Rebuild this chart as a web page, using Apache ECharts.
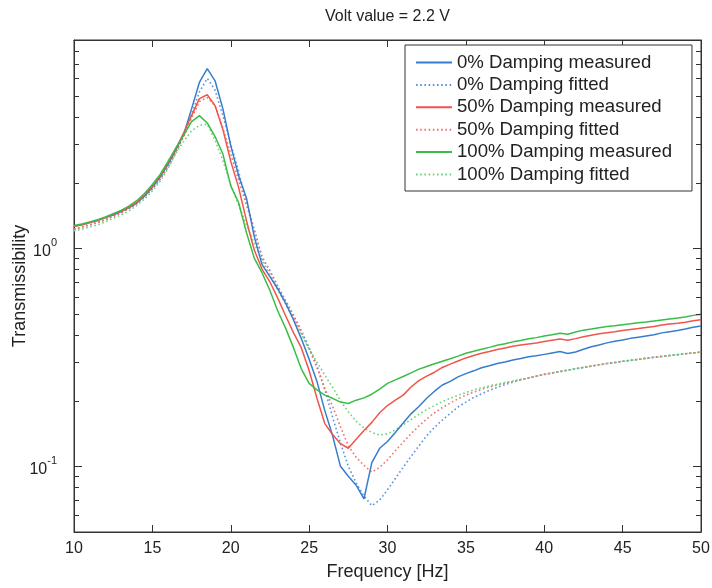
<!DOCTYPE html>
<html><head><meta charset="utf-8">
<script src="https://cdn.jsdelivr.net/npm/echarts@6/dist/echarts.min.js"></script>
<style>html,body{margin:0;padding:0;background:#fff}#c{width:712px;height:588px}</style>
</head><body><div id="c"></div>
<script>
const titleText = 'Volt value = 2.2 V';
const xName = 'Frequency [Hz]';
const yName = 'Transmissibility';
const seriesNames = ['0% Damping measured','0% Damping fitted','50% Damping measured','50% Damping fitted','100% Damping measured','100% Damping fitted'];

const freq = [10,10.5,11,11.5,12,12.5,13,13.5,14,14.5,15,15.5,16,16.5,17,17.5,18,18.5,19,19.5,20,20.5,21,21.5,22,22.5,23,23.5,24,24.5,25,25.5,26,26.5,27,27.5,28,28.5,29,29.5,30,30.5,31,31.5,32,32.5,33,33.5,34,34.5,35,35.5,36,36.5,37,37.5,38,38.5,39,39.5,40,40.5,41,41.5,42,42.5,43,43.5,44,44.5,45,45.5,46,46.5,47,47.5,48,48.5,49,49.5,50];

const blueMeasured = [1.26,1.28,1.31,1.34,1.38,1.42,1.47,1.53,1.61,1.73,1.90,2.12,2.42,2.82,3.32,4.35,5.75,6.65,5.85,4.35,2.95,2.15,1.70,1.13,0.84,0.74,0.65,0.56,0.47,0.385,0.31,0.245,0.18,0.138,0.100,0.090,0.082,0.071,0.104,0.121,0.130,0.143,0.158,0.174,0.188,0.205,0.221,0.236,0.245,0.257,0.266,0.274,0.283,0.289,0.296,0.301,0.307,0.312,0.318,0.321,0.326,0.331,0.336,0.329,0.334,0.344,0.353,0.360,0.368,0.374,0.379,0.386,0.391,0.396,0.401,0.409,0.414,0.419,0.426,0.434,0.440];
const blueFitted = [1.22,1.25,1.28,1.31,1.35,1.40,1.45,1.52,1.60,1.72,1.87,2.07,2.36,2.76,3.30,4.10,5.20,6.00,5.30,4.05,3.00,2.25,1.62,1.22,0.90,0.79,0.67,0.575,0.495,0.42,0.35,0.29,0.225,0.168,0.128,0.100,0.084,0.073,0.066,0.070,0.078,0.088,0.099,0.111,0.124,0.138,0.151,0.163,0.175,0.187,0.197,0.207,0.215,0.223,0.230,0.237,0.243,0.249,0.254,0.259,0.264,0.268,0.272,0.276,0.280,0.284,0.288,0.292,0.296,0.299,0.303,0.306,0.309,0.313,0.316,0.319,0.322,0.325,0.328,0.331,0.334];
const redMeasured = [1.26,1.28,1.31,1.34,1.38,1.43,1.48,1.54,1.62,1.75,1.93,2.15,2.46,2.86,3.38,4.05,4.85,5.05,4.50,3.50,2.50,1.90,1.34,0.98,0.80,0.70,0.59,0.49,0.41,0.35,0.275,0.205,0.157,0.140,0.127,0.121,0.133,0.146,0.159,0.176,0.190,0.201,0.212,0.231,0.247,0.259,0.270,0.284,0.294,0.304,0.314,0.322,0.330,0.336,0.343,0.349,0.355,0.360,0.364,0.368,0.373,0.378,0.383,0.378,0.385,0.393,0.399,0.405,0.410,0.414,0.419,0.424,0.428,0.433,0.438,0.444,0.449,0.453,0.458,0.465,0.470];
const redFitted = [1.22,1.25,1.28,1.31,1.35,1.40,1.45,1.52,1.60,1.72,1.87,2.07,2.36,2.75,3.25,3.95,4.70,4.90,4.50,3.55,2.70,2.05,1.58,1.20,0.92,0.78,0.66,0.565,0.485,0.41,0.345,0.283,0.228,0.188,0.152,0.124,0.110,0.101,0.094,0.099,0.107,0.118,0.129,0.141,0.153,0.165,0.176,0.186,0.195,0.204,0.212,0.219,0.225,0.231,0.236,0.241,0.245,0.250,0.254,0.259,0.264,0.268,0.272,0.276,0.280,0.284,0.288,0.292,0.296,0.299,0.303,0.306,0.309,0.313,0.316,0.319,0.322,0.325,0.328,0.331,0.334];
const greenMeasured = [1.27,1.29,1.32,1.35,1.39,1.44,1.49,1.56,1.65,1.78,1.96,2.18,2.50,2.88,3.30,3.80,4.05,3.75,3.25,2.70,1.93,1.62,1.18,0.90,0.77,0.64,0.515,0.43,0.35,0.28,0.240,0.224,0.212,0.205,0.197,0.194,0.201,0.206,0.214,0.226,0.240,0.249,0.258,0.268,0.279,0.287,0.295,0.303,0.311,0.320,0.330,0.337,0.344,0.351,0.359,0.365,0.372,0.377,0.384,0.389,0.396,0.401,0.407,0.403,0.413,0.421,0.426,0.432,0.437,0.441,0.446,0.450,0.455,0.459,0.464,0.469,0.474,0.478,0.484,0.492,0.498];
const greenFitted = [1.20,1.22,1.25,1.28,1.32,1.37,1.42,1.48,1.57,1.68,1.83,2.03,2.32,2.72,3.10,3.45,3.65,3.70,3.12,2.52,1.95,1.58,1.28,1.05,0.88,0.75,0.645,0.555,0.475,0.405,0.345,0.300,0.262,0.230,0.200,0.178,0.161,0.150,0.143,0.139,0.141,0.147,0.155,0.164,0.173,0.182,0.190,0.198,0.205,0.212,0.218,0.224,0.229,0.234,0.238,0.242,0.246,0.250,0.254,0.259,0.264,0.268,0.272,0.276,0.280,0.284,0.288,0.292,0.296,0.299,0.303,0.306,0.309,0.313,0.316,0.319,0.322,0.325,0.328,0.331,0.334];

const xTicks = [10,15,20,25,30,35,40,45,50];
const yMinorTicks = [0.06,0.07,0.08,0.09,0.2,0.3,0.4,0.5,0.6,0.7,0.8,0.9,2,3,4,5,6,7,8];

const FONT = 'Liberation Sans, Arial, sans-serif';
const AX = '#333';
const colors = ['#377dcd','#5b92df','#f0554b','#f27468','#37be46','#6fd27a'];
const seriesData = [blueMeasured, blueFitted, redMeasured, redFitted, greenMeasured, greenFitted];

const chart = echarts.init(document.getElementById('c'), null, {renderer:'canvas'});
const series = seriesData.map((arr, k) => ({
  name: seriesNames[k], type: 'line', symbol: 'none', showSymbol: false,
  data: freq.map((f, i) => [f, arr[i]]),
  lineStyle: { color: colors[k], width: k % 2 === 0 ? 1.5 : 1.6, type: k % 2 === 0 ? 'solid' : [1.6, 2.6] },
  itemStyle: { color: colors[k] },
  xAxisIndex: 0, yAxisIndex: 0, z: k % 2 === 0 ? 3 : 2
}));

function yLabel(v) {
  const l = Math.log10(v); const e = Math.round(l);
  if (Math.abs(l - e) > 1e-6) return '';
  return '{b|10}{s|' + e + '}';
}

chart.setOption({
  animation: false,
  backgroundColor: '#fff',
  title: { text: titleText, left: 320, top: 4, textStyle: { fontFamily: FONT, fontSize: 16, fontWeight: 'normal', color: '#222' } },
  grid: { left: 74, right: 11, top: 40, bottom: 56, show: true, borderColor: AX, borderWidth: 1, containLabel: false, outerBoundsMode: 'none' },
  legend: {
    data: seriesNames, orient: 'vertical', left: 405, top: 45,
    backgroundColor: '#fff', borderColor: AX, borderWidth: 1,
    padding: [8, 20, 7, 10], itemWidth: 36, itemHeight: 14, itemGap: 3.4,
    itemStyle: { opacity: 0 },
    textStyle: { fontFamily: FONT, fontSize: 18.6, color: '#222', lineHeight: 18 },
    selectedMode: false
  },
  xAxis: [
    { type: 'value', min: 10, max: 50, interval: 5, position: 'bottom',
      name: xName, nameLocation: 'middle', nameGap: 31,
      nameTextStyle: { fontFamily: FONT, fontSize: 18, color: '#222' },
      axisLine: { show: true, lineStyle: { color: AX } },
      axisTick: { inside: true, length: 7, lineStyle: { color: AX } },
      axisLabel: { fontFamily: FONT, fontSize: 16, color: '#222', margin: 9 },
      splitLine: { show: false } },
    { type: 'value', min: 10, max: 50, interval: 5, position: 'top',
      axisLine: { show: true, lineStyle: { color: AX } },
      axisTick: { inside: true, length: 7, lineStyle: { color: AX } },
      axisLabel: { show: false }, splitLine: { show: false } }
  ],
  yAxis: [
    { type: 'log', logBase: 10, min: 0.05, max: 9, position: 'left',
      name: yName, nameLocation: 'middle', nameGap: 45, nameRotate: 90, nameMoveOverlap: false,
      nameTextStyle: { fontFamily: FONT, fontSize: 18, color: '#222' },
      axisLine: { show: true, lineStyle: { color: AX } },
      axisTick: { inside: true, length: 8, lineStyle: { color: AX } },
      axisLabel: { formatter: yLabel, margin: 17, showMinLabel: false, showMaxLabel: false,
        rich: { b: { fontFamily: FONT, fontSize: 16, color: '#222', verticalAlign: 'bottom', lineHeight: 22 },
                s: { fontFamily: FONT, fontSize: 11, color: '#222', verticalAlign: 'top', lineHeight: 11 } } },
      splitLine: { show: false } },
    { type: 'log', logBase: 10, min: 0.05, max: 9, position: 'right',
      axisLine: { show: true, lineStyle: { color: AX } },
      axisTick: { inside: true, length: 8, lineStyle: { color: AX } },
      axisLabel: { show: false }, splitLine: { show: false } }
  ],
  series: series
});

// minor log ticks on left and right edges, positioned through the axis scale
const xl = chart.convertToPixel({xAxisIndex: 0}, 10);
const xr = chart.convertToPixel({xAxisIndex: 0}, 50);
const g = [];
yMinorTicks.forEach(v => {
  const y = Math.round(chart.convertToPixel({yAxisIndex: 0}, v)) + 0.5;
  g.push({ type: 'line', shape: { x1: xl, y1: y, x2: xl + 5, y2: y }, style: { stroke: AX, lineWidth: 1 }, z: 10 });
  g.push({ type: 'line', shape: { x1: xr - 5, y1: y, x2: xr, y2: y }, style: { stroke: AX, lineWidth: 1 }, z: 10 });
});
chart.setOption({ graphic: g });
</script></body></html>
